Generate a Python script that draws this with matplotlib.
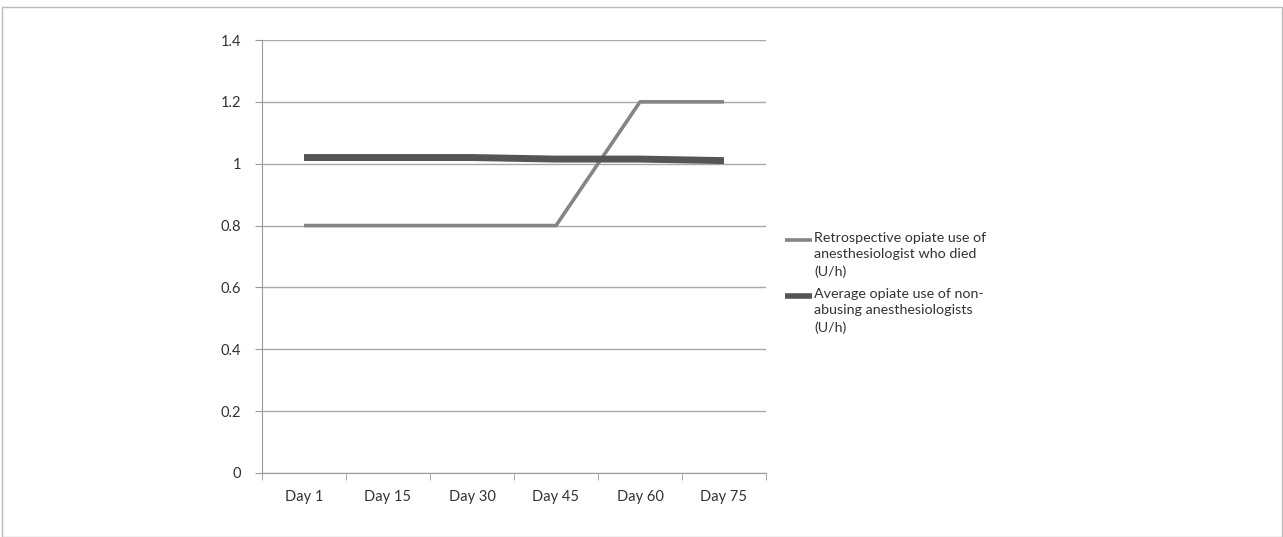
import matplotlib.pyplot as plt
import numpy as np
from matplotlib.lines import Line2D
from matplotlib.patches import Rectangle

days = ['Day 1', 'Day 15', 'Day 30', 'Day 45', 'Day 60', 'Day 75']
retrospective = [0.8, 0.8, 0.8, 0.8, 1.2, 1.2]
average = [1.02, 1.02, 1.02, 1.015, 1.015, 1.01]
labels = ['Retrospective opiate use of\nanesthesiologist who died\n(U/h)',
          'Average opiate use of non-\nabusing anesthesiologists\n(U/h)']

plt.rcParams['font.family'] = ['Lato', 'DejaVu Sans']

W, H = 1283, 537
fig = plt.figure(figsize=(W / 100, H / 100), dpi=100)
ax = fig.add_axes([262 / W, 1 - 473 / H, 504 / W, 433 / H])

x = np.arange(len(days))
ax.plot(x, retrospective, color='#858585', lw=2.6, solid_capstyle='butt', zorder=3)
ax.plot(x, average, color='#555555', lw=5, solid_capstyle='butt', zorder=4)

ax.set_xlim(-0.5, len(days) - 0.5)
ax.set_ylim(0, 1.4)
ax.set_yticks(np.arange(0, 1.41, 0.2))
ax.set_yticklabels(['0', '0.2', '0.4', '0.6', '0.8', '1', '1.2', '1.4'])
ax.set_xticks(x)
ax.set_xticklabels(days)
ax.set_xticks(np.arange(-0.5, len(days)), minor=True)
ax.tick_params(axis='x', which='major', length=0, pad=12, labelsize=10.5, colors='#333333')
ax.tick_params(axis='x', which='minor', length=5, color='#999999')
ax.tick_params(axis='y', length=5, color='#999999', pad=10, labelsize=10.5, labelcolor='#333333')
ax.grid(axis='y', color='#a8a8a8', lw=1)
for s in ['top', 'right']:
    ax.spines[s].set_visible(False)
for s in ['left', 'bottom']:
    ax.spines[s].set_color('#999999')

# legend drawn by hand so the sample line sits on the first text line
colors = ['#858585', '#555555']
widths = [2.6, 4]
ys = [240, 296]
for lab, c, lw, yy in zip(labels, colors, widths, ys):
    yf = 1 - yy / H
    fig.add_artist(Line2D([785 / W, 812 / W], [yf, yf], color=c, lw=lw, solid_capstyle='butt'))
    fig.text(814 / W, 1 - (yy - 8) / H, lab, fontsize=10.3, color='#333333', va='top',
             ha='left', linespacing=1.45)

fig.add_artist(Rectangle((2 / W, 0), 1 - 3 / W, 1 - 7 / H, transform=fig.transFigure,
                         fill=False, ec='#bbbbbb', lw=1))

fig.savefig('out.png', dpi=100)
